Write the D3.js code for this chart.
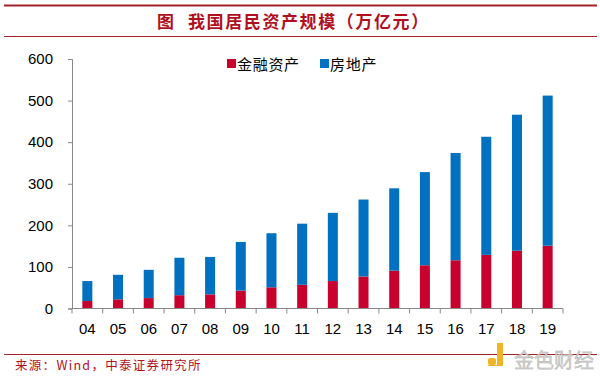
<!DOCTYPE html>
<html>
<head>
<meta charset="utf-8">
<script src="https://cdn.jsdelivr.net/npm/d3@7"></script>
<style>
  body { margin: 0; background: #fff; }
  svg { display: block; }
</style>
</head>
<body>
<div id="viz"></div>
<script>
var w = 600;
var h = 378;

// data (万亿元)
var years = ["04","05","06","07","08","09","10","11","12","13","14","15","16","17","18","19"];
var finance = [18, 22, 25, 32, 34, 43, 51, 57, 66, 77, 91, 104, 116, 129, 139, 151];
var realEstate = [48, 59, 68, 90, 90, 117, 130, 147, 164, 185, 198, 224, 258, 284, 327, 361];
var yTicks = [0, 100, 200, 300, 400, 500, 600];
var seriesNames = ["金融资产", "房地产"];
var seriesColors = ["#c8002d", "#0070c0"];

var rows = years.map(function(y, i) {
  return { year: y, finance: finance[i], realEstate: realEstate[i] };
});
var stacked = d3.stack().keys(["finance", "realEstate"])(rows);

var svg = d3.select("#viz")
  .append("svg")
  .attr("width", w)
  .attr("height", h);

var cjk = "'Noto Sans CJK SC', sans-serif";
var lineColor = "#a3222a";

// header lines + title
svg.append("line").attr("x1", 4).attr("x2", 597).attr("y1", 5.5).attr("y2", 5.5)
  .attr("stroke", lineColor).attr("stroke-width", 2);
svg.append("line").attr("x1", 4).attr("x2", 597).attr("y1", 36.5).attr("y2", 36.5)
  .attr("stroke", lineColor).attr("stroke-width", 1);
svg.append("text")
  .attr("x", 157).attr("y", 28)
  .attr("font-family", cjk)
  .attr("font-weight", "bold")
  .attr("font-size", 17)
  .attr("fill", "#b0101e")
  .text("图");
svg.append("text")
  .attr("x", 188).attr("y", 28)
  .attr("font-family", cjk)
  .attr("font-weight", "bold")
  .attr("font-size", 17)
  .attr("letter-spacing", 1.6)
  .attr("fill", "#b0101e")
  .text("我国居民资产规模（万亿元）");

var x = d3.scaleBand().domain(years).range([72, 563]).padding(0);
var y = d3.scaleLinear().domain([0, 600]).range([308.5, 59]);
var barW = 10;

// bars
svg.selectAll("g.series")
  .data(stacked)
  .enter()
  .append("g")
  .attr("class", "series")
  .attr("fill", function(d, i) { return seriesColors[i]; })
  .selectAll("rect")
  .data(function(d) { return d; })
  .enter()
  .append("rect")
  .attr("x", function(d) { return x(d.data.year) + (x.bandwidth() - barW) / 2; })
  .attr("width", barW)
  .attr("y", function(d) { return y(d[1]); })
  .attr("height", function(d) { return y(d[0]) - y(d[1]); });

// y axis
var yAxis = svg.append("g")
  .attr("transform", "translate(72,0)")
  .call(d3.axisLeft(y).tickValues(yTicks).tickSize(4).tickPadding(15));
yAxis.select(".domain").attr("stroke", "#888");
yAxis.selectAll(".tick line").attr("stroke", "#888");
yAxis.selectAll("text")
  .attr("font-family", "'Liberation Sans', Arial, sans-serif")
  .attr("font-size", 15)
  .attr("fill", "#000");

// x axis: ticks sit on the band edges
var xAxis = svg.append("g")
  .attr("transform", "translate(0,308.5)");
xAxis.append("line")
  .attr("x1", 72).attr("x2", 563)
  .attr("stroke", "#888");
var edges = years.map(function(d) { return x(d); }).concat([x.range()[1]]);
xAxis.selectAll("line.tk")
  .data(edges)
  .enter()
  .append("line")
  .attr("class", "tk")
  .attr("x1", function(d) { return d; }).attr("x2", function(d) { return d; })
  .attr("y1", 0).attr("y2", 5)
  .attr("stroke", "#888");
xAxis.selectAll("text")
  .data(years)
  .enter()
  .append("text")
  .attr("x", function(d) { return x(d) + x.bandwidth() / 2; })
  .attr("y", 25)
  .attr("text-anchor", "middle")
  .attr("font-family", "'Liberation Sans', Arial, sans-serif")
  .attr("font-size", 15)
  .attr("fill", "#000")
  .text(function(d) { return d; });

// legend
var legendX = [227, 320];
var legend = svg.selectAll("g.legend")
  .data(seriesNames)
  .enter()
  .append("g")
  .attr("class", "legend")
  .attr("transform", function(d, i) { return "translate(" + legendX[i] + ",64)"; });
legend.append("rect")
  .attr("x", 0).attr("y", -5)
  .attr("width", 9).attr("height", 9)
  .attr("fill", function(d, i) { return seriesColors[i]; });
legend.append("text")
  .attr("x", 10).attr("y", 6)
  .attr("font-family", cjk)
  .attr("font-size", 15)
  .attr("letter-spacing", 0.7)
  .attr("fill", "#000")
  .text(function(d) { return d; });

// footer
svg.append("line").attr("x1", 4).attr("x2", 597).attr("y1", 354.5).attr("y2", 354.5)
  .attr("stroke", lineColor).attr("stroke-width", 1);
svg.append("text")
  .attr("x", 15).attr("y", 370)
  .attr("font-family", cjk)
  .attr("font-size", 12.5)
  .attr("letter-spacing", 1.3)
  .attr("fill", "#b0101e")
  .text("来源：Wind，中泰证券研究所");

// watermark
svg.append("rect").attr("x", 488).attr("y", 358).attr("width", 8).attr("height", 7)
  .attr("rx", 2).attr("fill", "#f0b429");
svg.append("path").attr("d", "M497,343 h6 v23 h-15 v-1 h9 z")
  .attr("fill", "#f0b429");
svg.append("text")
  .attr("x", 514).attr("y", 368)
  .attr("font-family", cjk)
  .attr("font-size", 20)
  .attr("fill", "#d4d4d4")
  .attr("stroke", "#aaa")
  .attr("stroke-width", 0.4)
  .text("金色财经");
</script>
</body>
</html>
